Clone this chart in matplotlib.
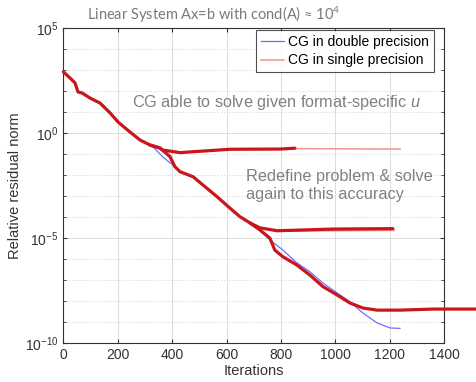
import numpy as np
import matplotlib.pyplot as plt
from matplotlib.ticker import LogLocator, NullFormatter, FixedLocator

plt.rcParams['font.family'] = ['Liberation Sans', 'DejaVu Sans']
plt.rcParams['mathtext.fontset'] = 'custom'
plt.rcParams['mathtext.rm'] = 'Liberation Sans'
plt.rcParams['mathtext.it'] = 'Liberation Sans:italic'

# data (iterations, log10 of residual)
double_it = [0, 25, 43, 54, 69, 98, 135, 172, 201, 245, 282, 319, 330, 366, 403,
             429, 477, 513, 565, 612, 649, 686, 722, 759, 807, 858, 906, 954,
             1006, 1053, 1101, 1153, 1201, 1237]
double_exp = [2.93, 2.63, 2.40, 1.97, 1.92, 1.68, 1.44, 0.97, 0.54, 0.06, -0.32,
              -0.56, -0.65, -1.13, -1.51, -1.83, -2.07, -2.46, -3.02, -3.56,
              -3.97, -4.27, -4.60, -5.08, -5.56, -6.17, -6.59, -7.13, -7.60,
              -8.02, -8.56, -9.03, -9.27, -9.29]

single_it = [0, 0, 25, 43, 54, 69, 98, 135, 172, 201, 245, 282, 319, 355, 366,
             429, 612, 796, 851, 1237]
single_exp = [2.15, 2.93, 2.63, 2.40, 1.97, 1.92, 1.68, 1.44, 0.97, 0.54, 0.06,
              -0.32, -0.56, -0.70, -0.80, -0.92, -0.76, -0.75, -0.73, -0.75]

# hand-drawn red strokes over the runs
main_it = [0, 25, 43, 54, 69, 98, 135, 172, 201, 245, 282, 319, 355, 392, 410,
           429, 477, 513, 565, 612, 649, 686, 722, 759, 777, 807, 858, 906, 954,
           1006, 1053, 1101, 1153, 1237, 1358, 1530]
main_exp = [2.93, 2.63, 2.40, 1.97, 1.92, 1.68, 1.44, 0.97, 0.54, 0.06, -0.32,
            -0.56, -0.70, -1.11, -1.59, -1.83, -2.07, -2.46, -3.02, -3.56, -3.97,
            -4.27, -4.60, -4.99, -5.56, -5.88, -6.27, -6.75, -7.30, -7.70, -8.08,
            -8.32, -8.42, -8.42, -8.37, -8.37]
plat1_it = [319, 355, 366, 429, 612, 796, 851]
plat1_exp = [-0.56, -0.70, -0.80, -0.92, -0.76, -0.75, -0.71]
plat2_it = [686, 722, 785, 992, 1211]
plat2_exp = [-4.27, -4.50, -4.64, -4.56, -4.54]
plat2_pink_it = [785, 1215]
plat2_pink_exp = [-4.66, -4.62]

fig = plt.figure(figsize=(4.77, 3.82), dpi=100)
ax = fig.add_axes([0.1327, 0.1013, 0.7988, 0.8246])

blue = '#6f6fff'
pink = '#f29a9a'
red = '#c8161b'

ax.semilogy(double_it, 10.0 ** np.array(double_exp), color=blue, lw=0.9,
            label='CG in double precision', zorder=3)
ax.semilogy(single_it, 10.0 ** np.array(single_exp), color=pink, lw=1.2,
            label='CG in single precision', zorder=2)
ax.semilogy(plat2_pink_it, 10.0 ** np.array(plat2_pink_exp), color=pink, lw=1.2, zorder=2)
ax.semilogy(main_it, 10.0 ** np.array(main_exp), color=red, lw=2.3, zorder=4,
            clip_on=False, solid_capstyle='round', solid_joinstyle='round')
ax.semilogy(plat1_it, 10.0 ** np.array(plat1_exp), color=red, lw=2.3, zorder=4,
            solid_capstyle='round', solid_joinstyle='round')
ax.semilogy(plat2_it, 10.0 ** np.array(plat2_exp), color=red, lw=2.3, zorder=4,
            solid_capstyle='round', solid_joinstyle='round')

ax.set_xlim(0, 1400)
ax.set_ylim(1e-10, 1e5)
ax.xaxis.set_major_locator(FixedLocator(range(0, 1401, 200)))
ax.yaxis.set_major_locator(FixedLocator([1e-10, 1e-5, 1e0, 1e5]))
ax.yaxis.set_minor_locator(LogLocator(base=10, subs=(1.0,), numticks=30))
ax.yaxis.set_minor_formatter(NullFormatter())

ax.grid(True, which='major', color='#dcdcdc', lw=0.7, ls='-')
ax.grid(True, which='minor', axis='y', color='#cfcfcf', lw=0.7, ls=(0, (1, 2)))
ax.tick_params(which='both', direction='in', top=True, right=True,
               labelsize=10, colors='#333333', length=3)
ax.tick_params(which='minor', length=2)
for s in ax.spines.values():
    s.set_color('#333333')
    s.set_linewidth(0.8)

ax.set_xlabel('Iterations', fontsize=10.5, color='#333333', labelpad=1)
ax.set_ylabel('Relative residual norm', fontsize=10.5, color='#333333', labelpad=2)

fig.text(0.448, 0.962, r'Linear System Ax=b with cond(A) ≈ $\mathregular{10^4}$',
         ha='center', va='center', fontsize=10.5, color='#7a7a7a',
         family=['Lato', 'DejaVu Sans'])

ax.text(253, 10 ** 1.49, r'CG able to solve given format-specific $\mathit{u}$',
        fontsize=11.7, color='#808080', va='center', ha='left')
ax.text(671, 10 ** -2.5, 'Redefine problem & solve\nagain to this accuracy',
        fontsize=11.7, color='#808080', va='center', ha='left', linespacing=1.25)

leg = ax.legend(loc='upper right', bbox_to_anchor=(0.977, 1.0), fontsize=10,
                frameon=True, fancybox=False, borderpad=0.35, handlelength=1.7,
                handletextpad=0.3, labelspacing=0.35, borderaxespad=0.1)
leg.get_frame().set_edgecolor('#222222')
leg.get_frame().set_linewidth(0.8)

fig.savefig('out.png', dpi=100)
